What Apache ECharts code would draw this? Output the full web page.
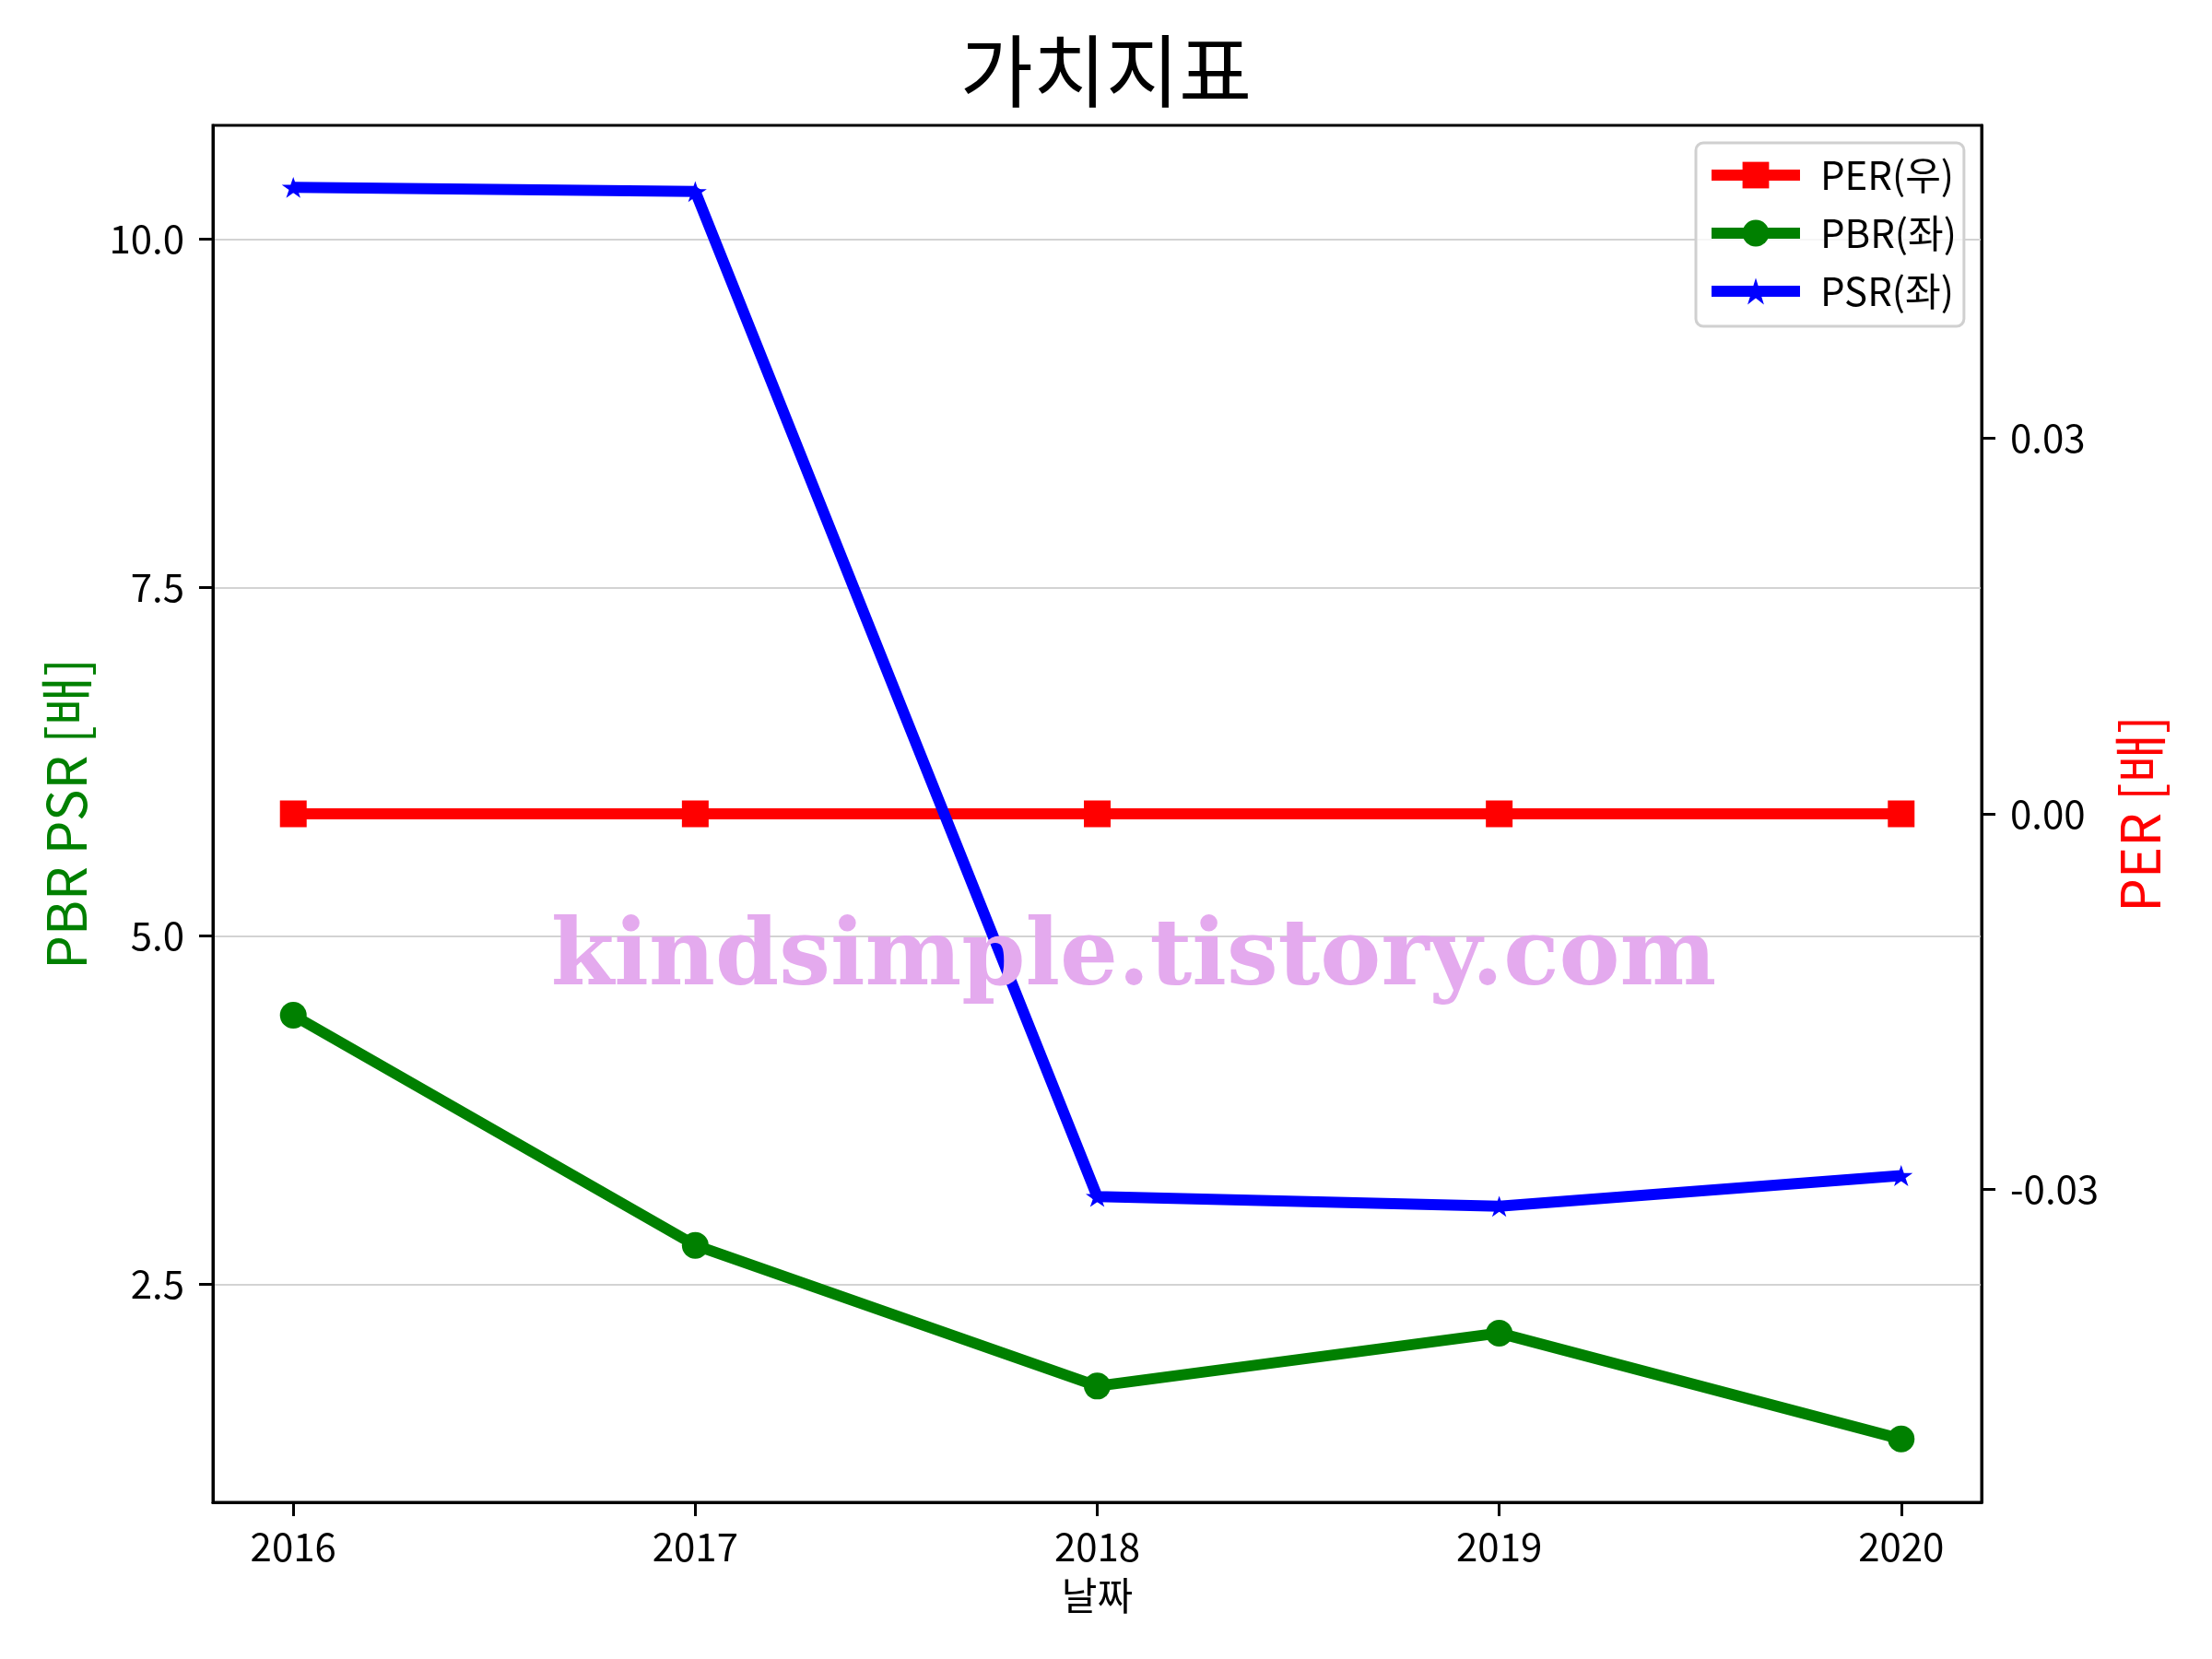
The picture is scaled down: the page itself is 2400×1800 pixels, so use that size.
<!DOCTYPE html>
<html><head><meta charset="utf-8">
<script src="https://cdn.jsdelivr.net/npm/echarts@6/dist/echarts.min.js"></script>
<style>html,body{margin:0;padding:0;background:#fff}#c{width:2400px;height:1800px}</style>
</head><body><div id="c"></div>
<script>
const years = [2016, 2017, 2018, 2019, 2020];
const per = [0, 0, 0, 0, 0];
const pbr = [4.43, 2.78, 1.77, 2.15, 1.39];
const psr = [10.37, 10.34, 3.13, 3.06, 3.28];
const leftTicks = [2.5, 5.0, 7.5, 10.0];
const rightTicks = [-0.03, 0.0, 0.03];
const seriesNames = ['PER(우)', 'PBR(좌)', 'PSR(좌)'];

const FONT = '"Noto Sans CJK KR", "Noto Sans", sans-serif';
const star = 'path://M0,-1L0.2245,-0.309L0.9511,-0.309L0.3633,0.118L0.5878,0.809L0,0.382L-0.5878,0.809L-0.3633,0.118L-0.9511,-0.309L-0.2245,-0.309Z';
const pairs = arr => years.map((y, i) => [y, arr[i]]);

const chart = echarts.init(document.getElementById('c'));
chart.setOption({
  backgroundColor: '#fff',
  animation: false,
  textStyle: { fontFamily: FONT },
  title: {
    text: '가치지표', left: 'center', top: 34, padding: 0,
    textStyle: { fontFamily: FONT, fontSize: 86, fontWeight: 'normal', color: '#000' }
  },
  grid: { left: 231, right: 250, top: 136, bottom: 170, show: true, borderColor: '#000', borderWidth: 3, backgroundColor: 'transparent' },
  legend: {
    orient: 'vertical', left: 1840, top: 155,
    padding: [14, 8, 17, 11], itemWidth: 96, itemHeight: 36, itemGap: 21,
    borderColor: '#d0d0d0', borderWidth: 3, borderRadius: 8, backgroundColor: 'rgba(255,255,255,0.8)',
    lineStyle: { width: 12 },
    textStyle: { fontFamily: FONT, fontSize: 42, color: '#000', padding: [0, 0, 0, 17] },
    data: seriesNames
  },
  xAxis: {
    type: 'value', min: 2015.8, max: 2020.2,
    name: '날짜', nameLocation: 'middle', nameGap: 80,
    nameTextStyle: { fontFamily: FONT, fontSize: 42, color: '#000' },
    axisLine: { show: true, onZero: false, lineStyle: { color: '#000', width: 3 } },
    axisTick: { show: true, length: 15, lineStyle: { color: '#000', width: 3 }, customValues: years },
    axisLabel: { fontFamily: FONT, fontSize: 42, color: '#000', margin: 27, customValues: years, formatter: v => String(v) },
    splitLine: { show: false }
  },
  yAxis: [
    {
      type: 'value', position: 'left', min: 0.936, max: 10.815,
      name: 'PBR PSR [배]', nameLocation: 'middle', nameGap: 130, nameRotate: 90,
      nameTextStyle: { fontFamily: FONT, fontSize: 58, color: '#008000' },
      axisLine: { show: true, onZero: false, lineStyle: { color: '#000', width: 3 } },
      axisTick: { show: true, length: 15, lineStyle: { color: '#000', width: 3 }, customValues: leftTicks },
      axisLabel: { fontFamily: FONT, fontSize: 42, color: '#000', margin: 31, customValues: leftTicks, formatter: v => v.toFixed(1) },
      splitLine: { show: true, lineStyle: { color: '#d3d3d3', width: 2 }, customValues: leftTicks }
    },
    {
      type: 'value', position: 'right', min: -0.055, max: 0.055,
      name: 'PER [배]', nameLocation: 'middle', nameGap: 143, nameRotate: 90,
      nameTextStyle: { fontFamily: FONT, fontSize: 58, color: '#ff0000' },
      axisLine: { show: true, onZero: false, lineStyle: { color: '#000', width: 3 } },
      axisTick: { show: true, length: 15, lineStyle: { color: '#000', width: 3 }, customValues: rightTicks },
      axisLabel: { fontFamily: FONT, fontSize: 42, color: '#000', margin: 31, customValues: rightTicks, formatter: v => (Math.abs(v) < 1e-9 ? '0.00' : v.toFixed(2)) },
      splitLine: { show: false }
    }
  ],
  series: [
    {
      name: seriesNames[0], type: 'line', yAxisIndex: 1, data: pairs(per),
      symbol: 'rect', symbolSize: 29, showAllSymbol: true,
      lineStyle: { color: '#ff0000', width: 12 }, itemStyle: { color: '#ff0000' }, z: 3
    },
    {
      name: seriesNames[1], type: 'line', yAxisIndex: 0, data: pairs(pbr),
      symbol: 'circle', symbolSize: 29, showAllSymbol: true,
      lineStyle: { color: '#008000', width: 12 }, itemStyle: { color: '#008000' }, z: 4
    },
    {
      name: seriesNames[2], type: 'line', yAxisIndex: 0, data: pairs(psr),
      symbol: star, symbolSize: [25, 24], symbolKeepAspect: true, showAllSymbol: true,
      lineStyle: { color: '#0000ff', width: 12 }, itemStyle: { color: '#0000ff' }, z: 5
    }
  ],
  graphic: [
    {
      type: 'text', x: 1230, y: 1042, z: 100,
      style: {
        text: 'kindsimple.tistory.com', fill: '#e4aaee',
        font: 'bold 99px "DejaVu Serif", serif', textAlign: 'center', textVerticalAlign: 'middle'
      }
    }
  ]
});
</script></body></html>
